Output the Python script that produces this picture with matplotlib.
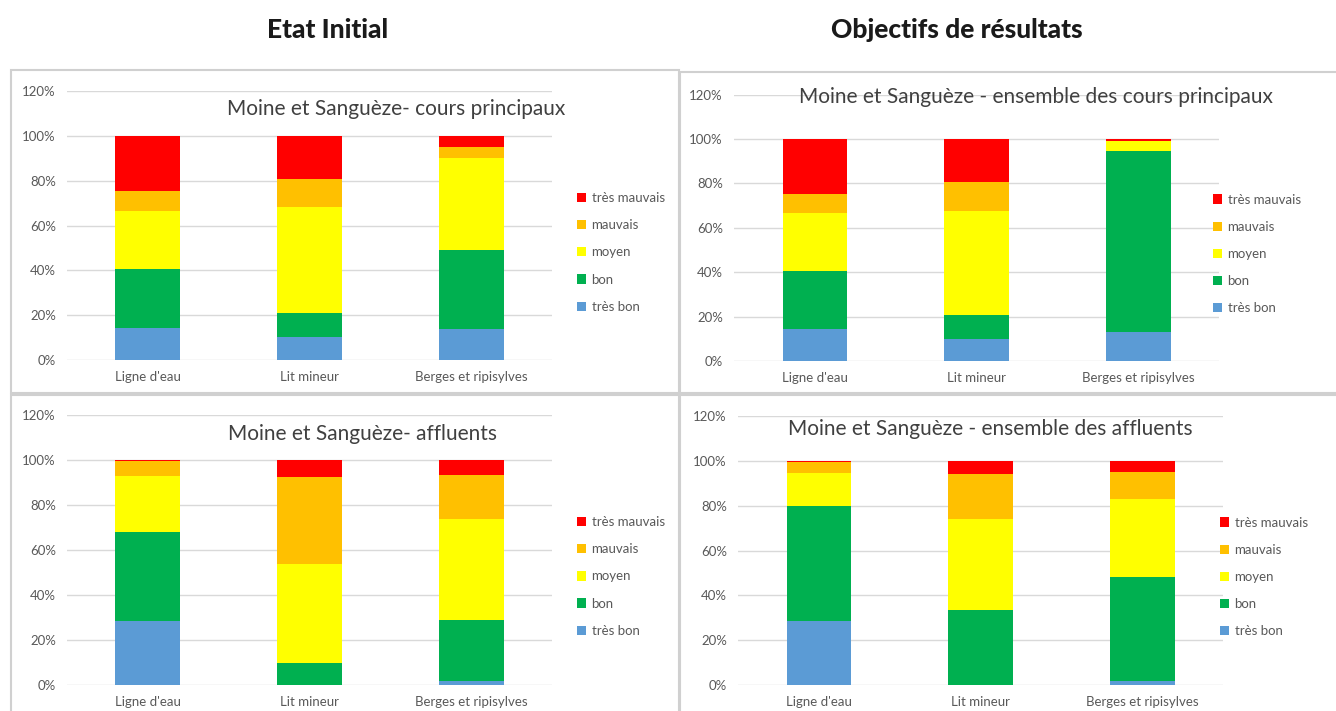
import matplotlib.pyplot as plt
from matplotlib.patches import Rectangle, Patch
from matplotlib.ticker import PercentFormatter

plt.rcParams['font.family'] = ['Lato', 'DejaVu Sans']

# categories / series
categories = ["Ligne d'eau", "Lit mineur", "Berges et ripisylves"]
classes = ["très bon", "bon", "moyen", "mauvais", "très mauvais"]
colors = ["#5B9BD5", "#00B050", "#FFFF00", "#FFC000", "#FF0000"]

# Etat initial - cours principaux (fractions per class, one value per category)
init_main = {
    "très bon":     [0.145, 0.101, 0.137],
    "bon":          [0.262, 0.108, 0.353],
    "moyen":        [0.260, 0.473, 0.410],
    "mauvais":      [0.087, 0.124, 0.049],
    "très mauvais": [0.246, 0.194, 0.051],
}
# Objectifs - ensemble des cours principaux
obj_main = {
    "très bon":     [0.143, 0.101, 0.131],
    "bon":          [0.263, 0.104, 0.815],
    "moyen":        [0.262, 0.472, 0.046],
    "mauvais":      [0.085, 0.128, 0.000],
    "très mauvais": [0.247, 0.195, 0.008],
}
# Etat initial - affluents
init_aff = {
    "très bon":     [0.285, 0.000, 0.019],
    "bon":          [0.396, 0.098, 0.269],
    "moyen":        [0.249, 0.440, 0.452],
    "mauvais":      [0.066, 0.385, 0.193],
    "très mauvais": [0.004, 0.077, 0.067],
}
# Objectifs - ensemble des affluents
obj_aff = {
    "très bon":     [0.286, 0.000, 0.019],
    "bon":          [0.511, 0.335, 0.462],
    "moyen":        [0.149, 0.407, 0.348],
    "mauvais":      [0.051, 0.198, 0.122],
    "très mauvais": [0.003, 0.060, 0.049],
}

W, H = 1336, 711
fig = plt.figure(figsize=(W / 100, H / 100), dpi=100)
fig.patch.set_facecolor('white')


def fx(px):
    return px / W


def fy(py):
    return 1 - py / H


# panel frames
for (x0, y0, x1, y1) in [(11, 70, 679, 393), (680, 72, 1340, 393),
                         (11, 395, 679, 715), (680, 395, 1340, 715)]:
    fig.patches.append(Rectangle((fx(x0), fy(y1)), fx(x1 - x0), (y1 - y0) / H,
                                 transform=fig.transFigure, fill=False,
                                 edgecolor='#d0d0d0', linewidth=1.5))

fig.text(fx(328), fy(30), "Etat Initial", ha='center', va='center',
         fontsize=19, fontweight='black', color='#1a1a1a')
fig.text(fx(957), fy(30), "Objectifs de résultats", ha='center', va='center',
         fontsize=19, fontweight='black', color='#1a1a1a')

panels = [
    (init_main, "Moine et Sanguèze- cours principaux", 67, 360, 136, 396, 109, 577, 252.5),
    (obj_main, "Moine et Sanguèze - ensemble des cours principaux", 734, 361, 139, 1036, 97, 1213, 254),
    (init_aff, "Moine et Sanguèze- affluents", 67, 685, 460, 362, 434, 577, 576.5),
    (obj_aff, "Moine et Sanguèze - ensemble des affluents", 738, 685, 461, 990, 429, 1220, 577),
]

for data, title, left, y0, y100, tx, ty, lx, ly in panels:
    px100 = y0 - y100
    ax = fig.add_axes([fx(left), fy(y0), fx(485), 1.2 * px100 / H])
    x = range(len(categories))
    bottom = [0.0] * len(categories)
    for cls, col in zip(classes, colors):
        vals = data[cls]
        ax.bar(x, vals, width=0.4, bottom=bottom, color=col, zorder=3)
        bottom = [b + v for b, v in zip(bottom, vals)]
    ax.set_xlim(-0.5, 2.5)
    ax.set_ylim(0, 1.2)
    ax.set_yticks([0, 0.2, 0.4, 0.6, 0.8, 1.0, 1.2])
    ax.yaxis.set_major_formatter(PercentFormatter(1.0, decimals=0))
    ax.set_xticks(list(x))
    ax.set_xticklabels(categories)
    ax.tick_params(length=0, labelsize=9.5, colors='#595959', pad=8)
    ax.grid(axis='y', color='#d9d9d9', linewidth=1, zorder=0)
    for s in ax.spines.values():
        s.set_visible(False)
    fig.text(fx(tx), fy(ty), title, ha='center', va='center',
             fontsize=15, color='#404040')
    handles = [Patch(facecolor=c, edgecolor='none', label=l)
               for l, c in zip(classes[::-1], colors[::-1])]
    fig.legend(handles=handles, loc='center left',
               bbox_to_anchor=(fx(lx), fy(ly)), frameon=False,
               fontsize=9.5, labelcolor='#595959', borderpad=0,
               borderaxespad=0, handlelength=0.7, handleheight=0.7,
               handletextpad=0.4, labelspacing=1.15)

fig.savefig("out.png", dpi=100)
